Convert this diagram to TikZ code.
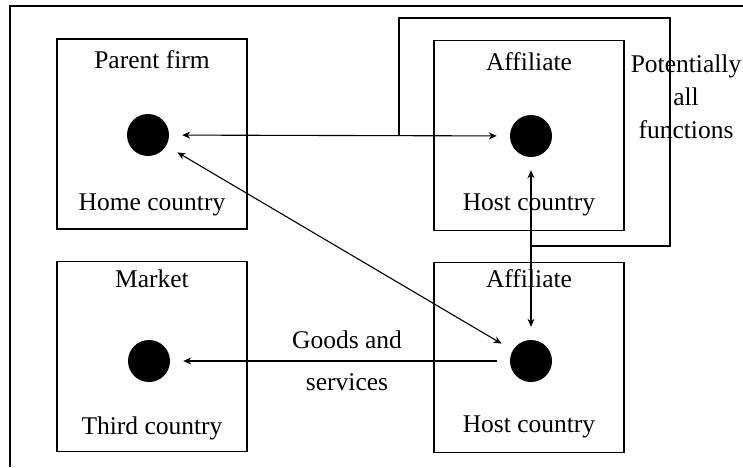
\documentclass[tikz,border=0pt]{standalone}
\usepackage{fontspec}
\setmainfont{Liberation Serif}
\usetikzlibrary{arrows.meta}
\begin{document}
\begin{tikzpicture}
[
    x=1pt, y=-1pt,
    >={Stealth[length=8pt, width=7pt]},
    country/.style={draw, line width=1.6pt, minimum width=190pt, minimum height=190pt},
    firm/.style={circle, fill=black, minimum size=42pt, inner sep=0pt},
    tag/.style={font=\fontsize{25.5}{33}\selectfont},
    link/.style={line width=1.1pt, shorten <=13pt, shorten >=13pt},
]
\useasboundingbox (0,0) rectangle (743,467);
\draw[line width=1.6pt] (743,6) -- (10,6) -- (10,467);

\node[country] (home) at (152,134) {};
\node[country] (host) at (529,135.5) {};
\node[country] (third) at (152,356.5) {};
\node[country] (host2) at (529,357.5) {};

\node[firm] (parent) at (148,135) {};
\node[firm] (aff) at (531,136) {};
\node[firm] (market) at (149,361) {};
\node[firm] (aff2) at (531,361) {};

\node[tag] (parentT) at (152,60) {Parent firm};
\node[tag] (homeT) at (152,205) {Home country};
\node[tag] (affT) at (529,62) {Affiliate};
\node[tag] (hostT) at (529,205) {Host country};
\node[tag] (marketT) at (152,279) {Market};
\node[tag] (thirdT) at (152,428) {Third country};
\node[tag] (aff2T) at (529,279) {Affiliate};
\node[tag] (host2T) at (529,427) {Host country};

% functions that may move abroad
\draw[line width=1.6pt] (399,136) |- (670,18) |- (531,246);
\node[tag, align=center, text depth=0pt] (funcT) at (686,97) {Potentially\\ all\\ functions};

\draw[link, <->] (parent) -- (aff);
\draw[link, <->] (parent) -- (aff2);
\draw[link, <->] (aff) -- (aff2);
\draw[link, ->] (aff2) -- (market);
\node[tag] (goodsT) at (347,340) {Goods and};
\node[tag] (servT) at (347,382) {services};
\end{tikzpicture}
\end{document}
